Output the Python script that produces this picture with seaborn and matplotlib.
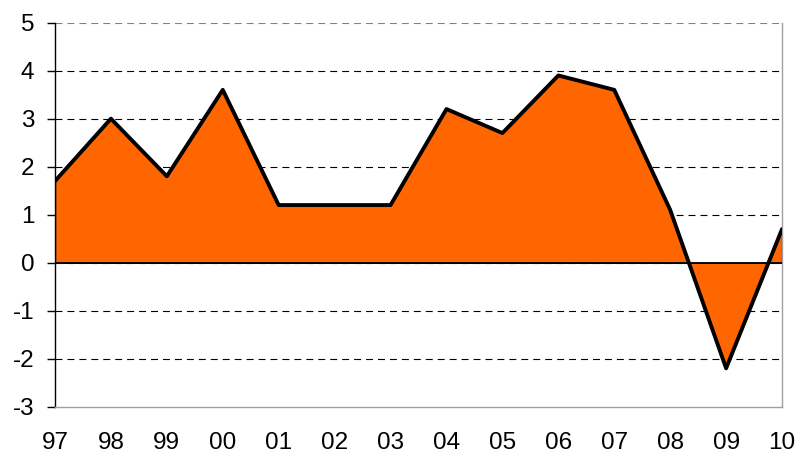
import numpy as np
import pandas as pd
import matplotlib
matplotlib.use("Agg")
import matplotlib.pyplot as plt
import seaborn as sns

# data
tahun = ["97", "98", "99", "00", "01", "02", "03", "04", "05", "06", "07", "08", "09", "10"]
nilai = [1.7, 3.0, 1.8, 3.6, 1.2, 1.2, 1.2, 3.2, 2.7, 3.9, 3.6, 1.1, -2.2, 0.7]
y_ticks = [-3, -2, -1, 0, 1, 2, 3, 4, 5]

df = pd.DataFrame({"pos": np.arange(len(tahun)), "nilai": nilai})

sns.set_theme(style="white")
plt.rcParams['font.family'] = ['Liberation Sans', 'DejaVu Sans']
plt.rcParams['lines.scale_dashes'] = False
plt.rcParams['axes.unicode_minus'] = False
plt.rcParams['xtick.labelsize'] = 17.5
plt.rcParams['ytick.labelsize'] = 17.5
plt.rcParams['xtick.color'] = "black"
plt.rcParams['ytick.color'] = "black"

fig = plt.figure(figsize=(7.98, 4.53), dpi=100)
ax = fig.add_axes([0.0689, 0.1022, 0.9111, 0.8478])

# area + garis
ax.fill_between(df["pos"], df["nilai"], 0, color="#FF6600",
                edgecolor="black", linewidth=1.0, zorder=2)
sns.lineplot(data=df, x="pos", y="nilai", color="black", linewidth=2.8,
             ax=ax, zorder=3)
ax.axhline(0, color="black", linewidth=1.2, zorder=4)

ax.set_xlim(0, len(tahun) - 1)
ax.set_ylim(-3, 5)
ax.set_xticks(df["pos"])
ax.set_xticklabels(tahun, fontsize=17.5)
ax.set_yticks(y_ticks)
ax.set_yticklabels([str(v) for v in y_ticks], fontsize=17.5)
ax.set_xlabel("")
ax.set_ylabel("")

# grid putus-putus
ax.yaxis.grid(True, color="black", linewidth=0.8, linestyle=(0, (5, 3.6)))
ax.set_axisbelow(True)
gl = ax.get_ygridlines()
gl[-1].set_color("#808080")
gl[0].set_visible(False)

ax.spines["top"].set_visible(False)
ax.spines["left"].set_color("black")
ax.spines["left"].set_linewidth(1.0)
ax.spines["right"].set_color("#a0a0a0")
ax.spines["bottom"].set_color("#a0a0a0")
ax.spines["right"].set_linewidth(1.0)
ax.spines["bottom"].set_linewidth(1.0)

ax.tick_params(axis="y", left=True, length=6, width=1.0, color="black", pad=9)
ax.tick_params(axis="x", bottom=False, length=0, pad=18)

plt.savefig("out.png", dpi=100)
